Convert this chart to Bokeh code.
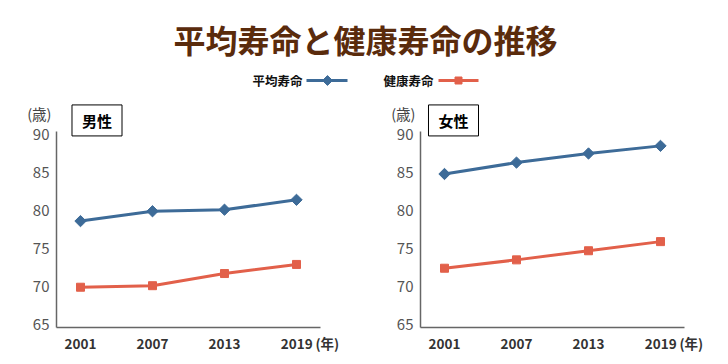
import math
from bokeh.plotting import figure
from bokeh.layouts import column, row
from bokeh.models import Range1d, FixedTicker, Label, LinearAxis
from bokeh.core.properties import value
from bokeh.embed import file_html
from bokeh.resources import INLINE

# ---- data ----
years = [2001, 2007, 2013, 2019]
male_avg = [78.6, 79.9, 80.1, 81.4]
male_healthy = [69.9, 70.1, 71.7, 72.9]
female_avg = [84.8, 86.3, 87.5, 88.5]
female_healthy = [72.4, 73.5, 74.7, 75.9]
y_ticks = [65, 70, 75, 80, 85, 90]
series_names = ["平均寿命", "健康寿命"]
panel_names = ["男性", "女性"]
title_text = "平均寿命と健康寿命の推移"
y_unit = "(歳)"
x_unit = "\u2009(年)"

FONT = "Noto Sans CJK JP"
BLUE = "#3d6b98"
ORANGE = "#e2604a"
BROWN = "#5a2b0c"
AXIS = "#666666"

Y_LO, Y_AX_TOP, Y_HI = 64.6, 90.4, 94.47
X_LO, X_HI = 1999, 2021

# ---- header (title + legend) ----
HDR_H = 95
PANEL_H = 261
hdr = figure(width=712, height=HDR_H, x_range=Range1d(0, 712), y_range=Range1d(0, HDR_H),
             output_backend="svg", toolbar_location=None,
             x_axis_location=None, y_axis_location=None,
             min_border=0)
hdr.grid.visible = False
hdr.outline_line_color = None
hdr.text(x=[365], y=[56.5], text=[title_text], text_font=value(FONT),
         text_font_style="bold", text_font_size="32px", text_align="center",
         text_baseline="middle", text_color=BROWN)
hdr.text(x=[302, 433], y=[15, 15], text=series_names, text_font=value(FONT),
         text_font_style="bold", text_font_size="12.5px", text_align="right",
         text_baseline="middle", text_color="#111111")
hdr.segment(x0=[306], y0=[15], x1=[347], y1=[15], line_color=BLUE, line_width=3)
hdr.scatter(x=[327], y=[15], marker="square", angle=math.pi / 4, size=7, color=BLUE)
hdr.segment(x0=[438], y0=[15], x1=[478], y1=[15], line_color=ORANGE, line_width=3)
hdr.scatter(x=[458], y=[15], marker="square", size=7, color=ORANGE)


def panel(avg, healthy, name, width, ml, mr, box_off):
    p = figure(width=width, height=PANEL_H, x_range=Range1d(X_LO, X_HI),
               y_range=Range1d(Y_LO, Y_HI), output_backend="svg",
               toolbar_location=None, min_border_left=ml, min_border_right=mr,
               min_border_top=5, min_border_bottom=29)
    p.grid.visible = False
    p.outline_line_color = None
    p.line(years, avg, line_color=BLUE, line_width=3)
    p.scatter(years, avg, marker="square", angle=math.pi / 4, size=8, color=BLUE)
    p.line(years, healthy, line_color=ORANGE, line_width=3)
    p.scatter(years, healthy, marker="square", size=8, color=ORANGE)

    p.xaxis.ticker = FixedTicker(ticks=years)
    p.xaxis.major_label_overrides = {years[-1]: "\u3000\u3000" + str(years[-1]) + x_unit}
    p.yaxis.ticker = FixedTicker(ticks=y_ticks)
    p.yaxis.bounds = (Y_LO, Y_AX_TOP)
    for ax in (p.xaxis, p.yaxis):
        ax.axis_line_color = AXIS
        ax.axis_line_width = 1.5
        ax.major_tick_line_color = None
        ax.minor_tick_line_color = None
        ax.major_tick_out = 0
        ax.major_tick_in = 0
        ax.major_label_text_font = FONT
    p.xaxis.major_label_text_font_style = "bold"
    p.xaxis.major_label_text_font_size = "13.5px"
    p.xaxis.major_label_text_color = "#333333"
    p.xaxis.major_label_standoff = 5
    p.yaxis.major_label_text_font_size = "15px"
    p.yaxis.major_label_text_color = "#555555"
    p.yaxis.major_label_standoff = 7

    # unit label above the y axis, as a second, line-less axis
    unit_pos = 92.76
    unit_ax = LinearAxis(ticker=FixedTicker(ticks=[unit_pos]),
                         major_label_overrides={unit_pos: y_unit},
                         axis_line_color=None, major_tick_line_color=None,
                         minor_tick_line_color=None, major_tick_out=0,
                         major_tick_in=0, major_label_standoff=-22,
                         major_label_text_font=FONT,
                         major_label_text_font_size="14.5px",
                         major_label_text_color="#444444")
    p.add_layout(unit_ax, "left")

    p.add_layout(Label(x=X_LO, y=Y_AX_TOP, x_offset=box_off, y_offset=11, text=name,
                       text_font=FONT, text_font_size="15px", text_font_style="bold",
                       text_color="#000000", text_align="center",
                       text_baseline="middle", padding=(10, 5),
                       border_line_color="#000000", border_line_width=1,
                       background_fill_color="white"))
    return p


p1 = panel(male_avg, male_healthy, panel_names[0], 364, 56, 44, 40.5)
p2 = panel(female_avg, female_healthy, panel_names[1], 348, 56, 28, 33)

layout = column(hdr, row(p1, p2, spacing=0), spacing=0)
open("out.html", "w").write(file_html(layout, INLINE))
